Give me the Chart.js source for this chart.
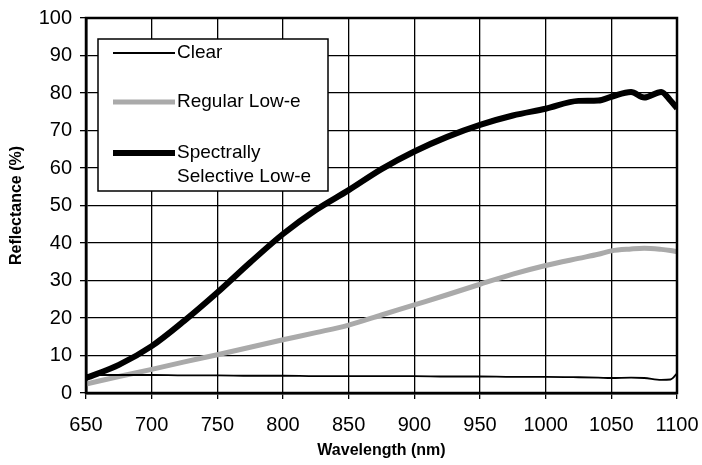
<!DOCTYPE html>
<html>
<head>
<meta charset="utf-8">
<script src="https://cdn.jsdelivr.net/npm/chart.js@4"></script>
<style>
  html, body { margin: 0; padding: 0; background: #fff; }
  #wrap { width: 702px; height: 465px; }
</style>
</head>
<body>
<div id="wrap"><canvas id="chart" width="702" height="465"></canvas></div>
<script>
// wavelength samples (nm) shared by all three curves
const wavelengths = [650, 675, 700, 725, 750, 775, 800, 825, 850, 875, 900, 925, 950, 975, 1000, 1025, 1040, 1050, 1065, 1075, 1088, 1095, 1100];

const clear =        [4.8, 4.8, 4.8, 4.7, 4.7, 4.6, 4.6, 4.5, 4.5, 4.5, 4.5, 4.4, 4.4, 4.3, 4.3, 4.2, 4.1, 4.0, 4.1, 4.0, 3.5, 3.6, 5.2];
const regularLowE =  [2.4, 4.4, 6.3, 8.3, 10.2, 12.2, 14.2, 16.1, 18.1, 20.8, 23.5, 26.2, 29.0, 31.7, 34.0, 35.9, 37.0, 37.9, 38.4, 38.6, 38.3, 38.0, 37.7];
const spectralLowE = [4.0, 7.5, 12.5, 19.3, 26.8, 34.8, 42.4, 48.8, 54.1, 59.7, 64.4, 68.3, 71.5, 74.0, 75.8, 77.9, 78.0, 79.0, 80.3, 78.8, 80.3, 78.0, 75.9];

const seriesNames = ['Clear', 'Regular Low-e', 'Spectrally\nSelective Low-e'];
const xTicks = [650, 700, 750, 800, 850, 900, 950, 1000, 1050, 1100];
const yTicks = [0, 10, 20, 30, 40, 50, 60, 70, 80, 90, 100];

const FONT = '"Liberation Sans", Arial, Helvetica, sans-serif';

function toPoints(ys) {
  return wavelengths.map((x, i) => ({ x: x, y: ys[i] }));
}

// box legend drawn inside the plot, like the original
const boxLegend = {
  id: 'boxLegend',
  afterDatasetsDraw(chart) {
    const ctx = chart.ctx;
    ctx.save();
    ctx.fillStyle = '#fff';
    ctx.fillRect(98, 39, 230, 152);
    ctx.strokeStyle = '#000';
    ctx.lineWidth = 1.5;
    ctx.strokeRect(98, 39, 230, 152);

    const rows = [53, 102, 153];
    chart.data.datasets.forEach((ds, i) => {
      const y = rows[i];
      ctx.strokeStyle = ds.borderColor;
      ctx.lineWidth = ds.borderWidth;
      ctx.beginPath();
      ctx.moveTo(113, y);
      ctx.lineTo(175, y);
      ctx.stroke();
      ctx.fillStyle = '#000';
      ctx.font = '19px ' + FONT;
      ctx.textBaseline = 'middle';
      ctx.textAlign = 'left';
      seriesNames[i].split('\n').forEach((line, j) => {
        ctx.fillText(line, 177, y + j * 24);
      });
    });

    // frame around the plot area
    const a = chart.chartArea;
    ctx.strokeStyle = '#000';
    ctx.lineWidth = 2.5;
    ctx.strokeRect(a.left, a.top, a.right - a.left, a.bottom - a.top);
    ctx.restore();
  }
};

new Chart('chart', {
  type: 'line',
  data: {
    datasets: [
      {
        label: 'Clear',
        data: toPoints(clear),
        borderColor: '#000',
        borderWidth: 1.8,
        pointRadius: 0,
        cubicInterpolationMode: 'monotone'
      },
      {
        label: 'Regular Low-e',
        data: toPoints(regularLowE),
        borderColor: '#aaaaaa',
        borderWidth: 5,
        pointRadius: 0,
        cubicInterpolationMode: 'monotone'
      },
      {
        label: 'Spectrally Selective Low-e',
        data: toPoints(spectralLowE),
        borderColor: '#000',
        borderWidth: 6,
        pointRadius: 0,
        cubicInterpolationMode: 'monotone'
      }
    ]
  },
  options: {
    responsive: false,
    animation: false,
    layout: { padding: { top: 18, right: 25, left: 0, bottom: 0 } },
    plugins: {
      legend: { display: false },
      tooltip: { enabled: false }
    },
    scales: {
      x: {
        type: 'linear',
        min: 650,
        max: 1100,
        afterBuildTicks: (s) => { s.ticks = xTicks.map(v => ({ value: v })); },
        afterFit: (s) => { s.height = 72; s.paddingLeft = 0; s.paddingRight = 0; },
        ticks: {
          color: '#000',
          font: { family: FONT, size: 20 },
          padding: 14,
          maxRotation: 0,
          callback: (v) => String(v)
        },
        grid: { color: '#000', lineWidth: 1.3, tickLength: 6, tickColor: '#000' },
        border: { color: '#000', width: 2.5 },
        title: {
          display: true,
          text: 'Wavelength (nm)',
          color: '#000',
          font: { family: FONT, size: 16, weight: 'bold' },
          padding: { top: 0, bottom: 5 }
        }
      },
      y: {
        min: 0,
        max: 100,
        afterBuildTicks: (s) => { s.ticks = yTicks.map(v => ({ value: v })); },
        afterFit: (s) => { s.width = 86; s.paddingTop = 0; s.paddingBottom = 0; },
        ticks: {
          color: '#000',
          font: { family: FONT, size: 20 },
          padding: 8
        },
        grid: { color: '#000', lineWidth: 1.3, tickLength: 6, tickColor: '#000' },
        border: { color: '#000', width: 2.5 },
        title: {
          display: true,
          text: 'Reflectance (%)',
          color: '#000',
          font: { family: FONT, size: 16, weight: 'bold' },
          padding: { top: 7, bottom: 0 }
        }
      }
    }
  },
  plugins: [boxLegend]
});
</script>
</body>
</html>
